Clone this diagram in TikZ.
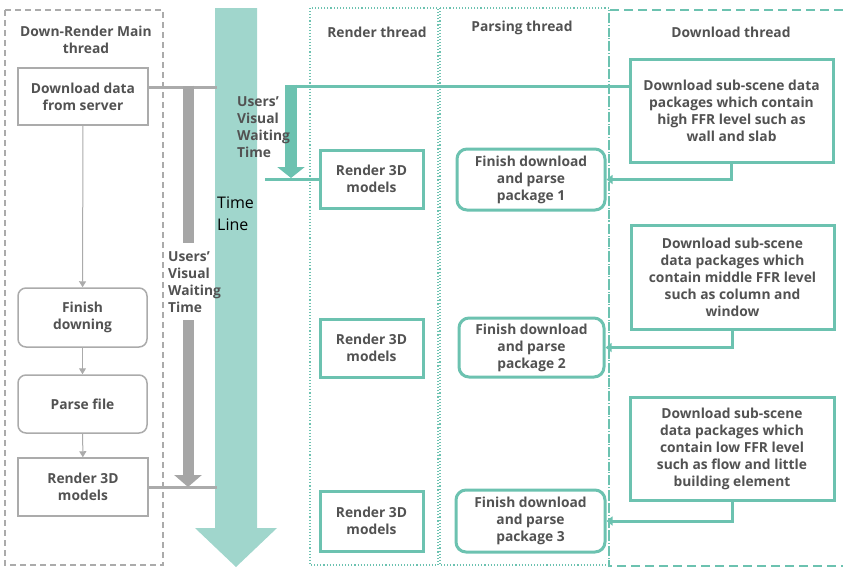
\documentclass[tikz,border=0pt]{standalone}
\usepackage{fontspec}
\setmainfont{Open Sans}
\usepackage{tikz}
\usetikzlibrary{arrows.meta}

\definecolor{txtgray}{HTML}{525252}
\definecolor{boxgray}{HTML}{ABABAB}
\definecolor{arrgray}{HTML}{A6A6A6}
\definecolor{tealdark}{HTML}{6CC2B0}
\definecolor{teallight}{HTML}{A0D6CC}

\begin{document}
\begin{tikzpicture}[x=1pt, y=-1pt,
    every node/.style={font=\bfseries\fontsize{13.8}{17}\selectfont, text=txtgray, align=center},
    graybox/.style={draw=boxgray, line width=1.5pt, inner sep=0pt},
    tealbox/.style={draw=tealdark, line width=3pt, inner sep=0pt, fill=white},
    grayline/.style={draw=boxgray, line width=1pt, -{Triangle[width=7pt,length=6pt]}},
    tealline/.style={draw=tealdark, line width=3pt}]
    \useasboundingbox (0,0) rectangle (843,568);

    % Thread lanes
    \draw[boxgray, line width=1.2pt, dash pattern=on 6pt off 4pt] (5,10) rectangle (163,565);
    \draw[tealdark, line width=1.1pt, dotted] (310,8) rectangle (438,565);
    \draw[tealdark, line width=1.1pt, dotted] (440,8) rectangle (609,565);
    \draw[tealdark, line width=1.3pt, dash pattern=on 9pt off 5pt] (843,10) -- (609,10) -- (609,566) -- (843,566);

    \node (tmain) at (86,40) {Down-Render Main\\thread};
    \node (trend) at (377,32) {Render thread};
    \node (tpars) at (522,28) {Parsing thread};
    \node (tdown) at (731,32) {Download thread};

    % Time line
    \fill[teallight] (215,8) -- (257,8) -- (257,528) -- (277,528) -- (236,567) -- (195,528) -- (215,528) -- cycle;
    \node[anchor=west, align=left, inner sep=0pt, text=black, font=\fontsize{16}{22}\selectfont] (tline) at (217,214) {Time\\Line};

    % Main thread
    \node[graybox, minimum width=130, minimum height=57] (dl) at (83,96.5) {Download data\\from server};
    \node[graybox, rounded corners=8pt, minimum width=129, minimum height=59] (fd) at (82.5,317.5) {Finish\\downing};
    \node[graybox, rounded corners=8pt, minimum width=129, minimum height=58] (pf) at (82.5,404) {Parse file};
    \node[graybox, minimum width=130, minimum height=58] (rl) at (83,487) {Render 3D\\models};
    \draw[grayline] (dl) -- (fd);
    \draw[grayline] (fd) -- (pf);
    \draw[grayline] (pf) -- (rl);

    \coordinate (gt) at (188,87);
    \coordinate (gb) at (188,487);
    \draw[boxgray, line width=3pt] (dl.east |- gt) -- (217,87);
    \draw[boxgray, line width=3pt] (rl.east) -- (217,487);
    \draw[arrgray, line width=11pt] (188,85.5) -- (188,243);
    \draw[arrgray, line width=11pt, -{Triangle[width=27pt,length=12pt]}] (188,320) -- (gb);
    \node[anchor=west, align=left, inner sep=0pt] (uw2) at (168,282.5) {Users’\\Visual\\Waiting\\Time};

    % Render thread
    \node[tealbox, minimum width=103, minimum height=58] (r1) at (371.5,179) {Render 3D\\models};
    \node[tealbox, minimum width=103, minimum height=58] (r2) at (371.5,348) {Render 3D\\models};
    \node[tealbox, minimum width=103, minimum height=60] (r3) at (371.5,521) {Render 3D\\models};

    % Parsing thread
    \node[tealbox, rounded corners=10pt, minimum width=148, minimum height=61] (f1) at (531,179.5) {Finish download\\and parse\\package 1};
    \node[tealbox, rounded corners=10pt, minimum width=145, minimum height=59] (f2) at (531.5,347.5) {Finish download\\and parse\\package 2};
    \node[tealbox, rounded corners=10pt, minimum width=149, minimum height=62] (f3) at (530.5,521) {Finish download\\and parse\\package 3};

    % Download thread
    \node[tealbox, minimum width=203, minimum height=103] (d1) at (731.5,110.5) {Download sub-scene data\\packages which contain\\high FFR level such as\\wall and slab};
    \node[tealbox, minimum width=203, minimum height=104] (d2) at (732.5,277) {Download sub-scene\\data packages which\\contain middle FFR level\\such as column and\\window};
    \node[tealbox, minimum width=204, minimum height=103] (d3) at (732,448.5) {Download sub-scene\\data packages which\\contain low FFR level\\such as flow and little\\building element};

    \draw[tealline, -{Triangle[width=9pt,length=6pt]}] (d1.south) |- (f1.east);
    \draw[tealline, -{Triangle[width=9pt,length=6pt]}] (d2.south) |- (f2.east);
    \draw[tealline, -{Triangle[width=9pt,length=6pt]}] (d3.south) |- (f3.east);

    % Users' visual waiting time (streaming)
    \coordinate (tk) at (291,86);
    \coordinate (tw) at (291,178);
    \draw[tealline] (d1.west |- tk) -- (285,86);
    \draw[tealdark, line width=12pt, -{Triangle[width=27pt,length=11pt]}] (291,84.5) -- (tw);
    \draw[tealline] (r1.west) -- (265,179);
    \node[anchor=west, align=left, inner sep=0pt] (uw1) at (237,127.5) {Users’\\Visual\\Waiting\\Time};
\end{tikzpicture}
\end{document}
